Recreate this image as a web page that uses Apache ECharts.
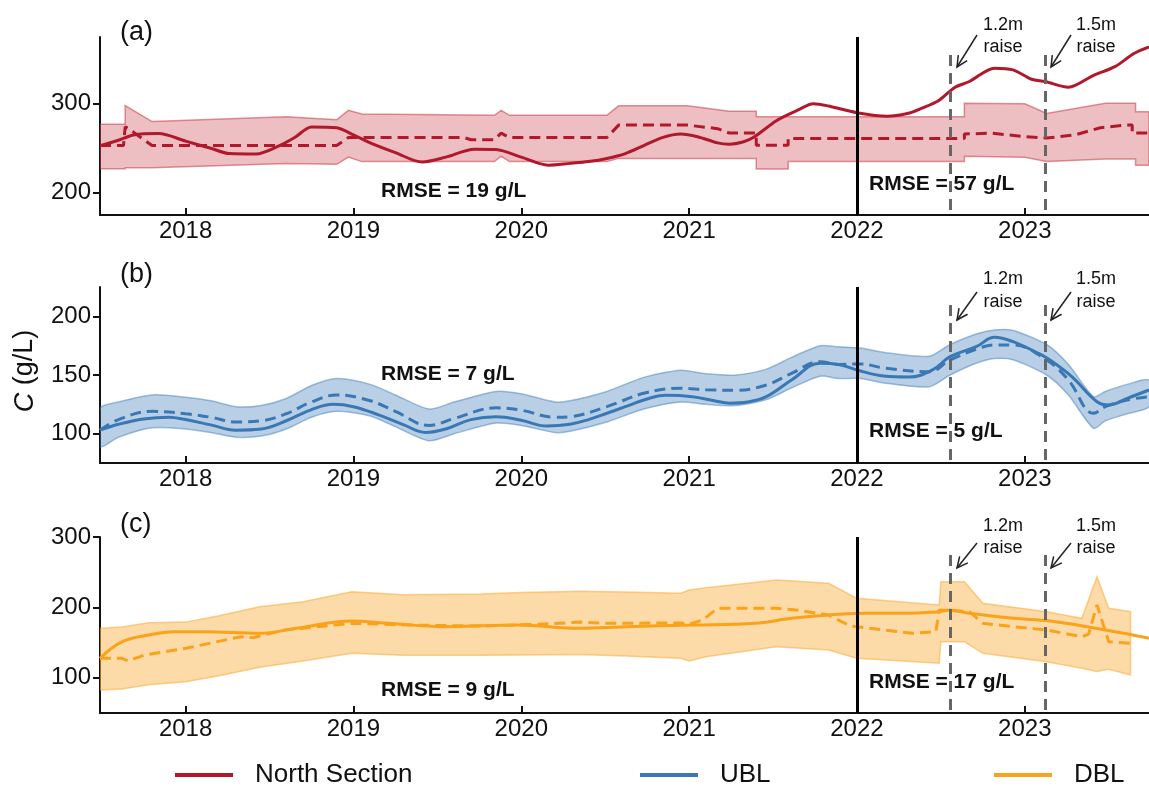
<!DOCTYPE html>
<html>
<head>
<meta charset="utf-8">
<title>Salinity C (g/L)</title>
<script src="https://cdn.jsdelivr.net/npm/echarts@6/dist/echarts.min.js"></script>
<style>
  html, body { margin: 0; padding: 0; background: #fff; }
  #main { width: 1149px; height: 789px; }
</style>
</head>
<body>
<div id="main"></div>
<script type="text/javascript">
// x axis (decimal years)
var yearTicks = [2018, 2019, 2020, 2021, 2022, 2023];
var xMin = 2017.49, xMax = 2023.74;
var splitYear = 2022;
var raiseDates = [2022.556, 2023.12];
var raiseText = [['1.2m', 'raise'], ['1.5m', 'raise']];
var panelNames = ['(a)', '(b)', '(c)'];
var rmseLeft = ['RMSE = 19 g/L', 'RMSE = 7 g/L', 'RMSE = 9 g/L'];
var rmseRight = ['RMSE = 57 g/L', 'RMSE = 5 g/L', 'RMSE = 17 g/L'];
var yTicksA = [200, 300];
var yTicksB = [100, 150, 200];
var yTicksC = [100, 200, 300];

// (a) North Section
var nsObsX = [2017.49,2017.6,2017.69,2017.84,2018.0,2018.15,2018.26,2018.42,2018.55,2018.65,2018.75,2018.9,2019.0,2019.1,2019.25,2019.41,2019.55,2019.72,2019.85,2020.0,2020.16,2020.29,2020.4,2020.51,2020.62,2020.73,2020.84,2020.95,2021.05,2021.17,2021.24,2021.32,2021.39,2021.52,2021.65,2021.74,2021.83,2022.0,2022.18,2022.3,2022.38,2022.49,2022.58,2022.67,2022.82,2022.93,2023.04,2023.12,2023.26,2023.41,2023.54,2023.65,2023.74];
var nsObsY = [253,259,265,266.5,258,250,244,243.5,252,262,274,273,265,256,245,234.5,240,249,248.5,240,231,233,235,238.5,244,253,262,266,263,256,254.5,257,263,281,293,300,297.5,290,286,289,294.5,304,318,325,340,338,327.5,325,318.5,332,342,356.5,364];
var nsModX = [2017.49,2017.63,2017.64,2017.66,2017.8,2018.9,2018.97,2019.66,2019.7,2019.84,2019.88,2019.93,2020.51,2020.58,2020.99,2021.17,2021.24,2021.4,2021.4,2021.59,2021.59,2022.64,2022.64,2022.8,2023.0,2023.13,2023.3,2023.45,2023.59,2023.64,2023.64,2023.74];
var nsModY = [253,253,274,272,253,253,262,262,259.5,259.5,267,262,262,276,276,272,267,267,253.5,253.5,261,261,266,267,263,261.5,265,273,276,276,267,267];
var nsBandX = [2017.49,2017.64,2017.64,2017.8,2018.6,2018.9,2018.97,2019.05,2019.84,2019.88,2019.93,2020.51,2020.58,2020.99,2021.24,2021.4,2021.4,2021.59,2021.59,2022.64,2022.64,2023.0,2023.13,2023.48,2023.66,2023.66,2023.74];
var nsLo = [227,227,228,228,233,232,240,235,235,241,235,235,238.6,238.6,238.6,238.6,226.6,226.6,235,235,241,240,235,238,238,231,231];
var nsHi = [277,277,298,280,285.5,282,292.6,288.5,287,292.6,287,287,297.7,297.7,291.7,291.7,285.5,285.5,285.5,285.5,300.5,300,289,300.5,300.5,291,291];

// (b) UBL
var ubObsX = [2017.49,2017.6,2017.75,2017.9,2018.0,2018.15,2018.3,2018.45,2018.6,2018.75,2018.88,2019.0,2019.15,2019.3,2019.43,2019.55,2019.7,2019.85,2020.0,2020.15,2020.29,2020.4,2020.51,2020.62,2020.73,2020.86,2021.02,2021.15,2021.24,2021.35,2021.46,2021.61,2021.78,2021.89,2022.0,2022.16,2022.31,2022.45,2022.555,2022.71,2022.82,2022.93,2023.08,2023.15,2023.28,2023.43,2023.5,2023.61,2023.74];
var ubObsY = [103,108,112.5,114,112,107.5,103,104,111,120.5,125,123,116,107.5,101,104,112,114.5,111.5,106.5,108,112,117.4,123,128.7,132.7,131.5,128,126,127,131.5,145.7,160,159,154.3,149.1,148.3,154.3,165.6,174.1,182.1,178.4,168.5,162.8,148.6,127.2,124.4,130.1,137.2];
var ubModX = [2017.49,2017.6,2017.8,2018.0,2018.15,2018.3,2018.45,2018.6,2018.75,2018.9,2019.1,2019.25,2019.45,2019.6,2019.85,2020.0,2020.2,2020.29,2020.51,2020.73,2020.95,2021.1,2021.28,2021.46,2021.61,2021.78,2021.89,2022.02,2022.17,2022.43,2022.555,2022.71,2022.82,2022.93,2023.13,2023.26,2023.41,2023.48,2023.61,2023.74];
var ubModY = [103,112,119,117,114,110,111,117,127,133,128,119,107,113,122,120,114,114.5,123,134.4,138.7,137.5,137,141.5,151.4,161.3,159,159.4,155.7,152.8,162.8,172,175.6,175.6,162.8,145.7,117.4,123,128.7,131.5];
var ubLo = [89,97,105,104,101,97,98,104,114,119,115,106,94,100,109,107,101,102,110,121,127,125,124,129,139,149,147,147,143,140,150,160,164,163,150,133,104.6,111,117,123];
var ubHi = [121.6,127,133,131,128,123,124,130,141,147,142,133,121,127,136,134,127,128,136,148,154,151,150,155,165,175,174,173,169,166,176,185,188.4,188,176,159,131.5,136,142,145.7];

// (c) DBL
var dbObsX = [2017.49,2017.62,2017.78,2017.93,2018.11,2018.44,2018.66,2018.99,2019.21,2019.54,2019.98,2020.35,2020.62,2021.02,2021.39,2021.61,2021.83,2022.05,2022.27,2022.49,2022.555,2022.67,2022.93,2023.15,2023.37,2023.59,2023.74];
var dbObsY = [127.7,151,160.8,165.5,165.5,163.2,170.3,180.7,177.4,172.6,175,170.3,172.6,175,177.4,184.5,189.2,191.6,191.6,193.9,196.3,191.6,184.5,180.7,172.6,163.2,156.1];
var dbModX = [2017.49,2017.62,2017.66,2017.75,2018.0,2018.33,2018.4,2018.59,2018.99,2019.32,2019.76,2020.1,2020.35,2020.51,2020.95,2021.0,2021.08,2021.17,2021.52,2021.65,2021.83,2021.96,2022.16,2022.33,2022.47,2022.49,2022.67,2022.75,2022.93,2023.13,2023.34,2023.38,2023.43,2023.5,2023.63];
var dbModY = [127.7,127.7,124,132,141.9,158.4,157,167.9,177.4,175,173.4,176,179.1,177.4,178,176,182,198.7,198.7,196,189.2,173.6,167.9,163.2,165.5,196.3,193.9,177.4,172.6,167.9,158.4,162,203.4,151.3,149];
var dbBandX = [2017.49,2017.62,2017.78,2018.0,2018.2,2018.44,2018.7,2018.99,2019.3,2019.76,2020.0,2020.35,2020.62,2020.95,2021.0,2021.1,2021.52,2021.83,2022.0,2022.49,2022.5,2022.64,2022.75,2023.13,2023.34,2023.43,2023.5,2023.63];
var dbLo = [82.7,84,90,94.5,103,115,124,134.8,132,132,132.4,133,131,127.7,124,130,144.2,139.5,127.7,120.6,151.3,151.3,134.8,122.9,113.5,108.8,112,104];
var dbHi = [170.3,172,178.3,179.1,188,201,208,222.3,218,219,221,223,222,220,224.7,228,238.9,234.2,212.9,203.4,236.5,236.5,205.8,193.9,184.5,243.6,198.7,194];

var FONT = '"Liberation Sans", Arial, sans-serif';
var RED = '#b2182b', BLUE = '#3a78b5', ORANGE = '#f9a21a';

var grids = [
    {left: 100, right: 0, top: 37, height: 178},
    {left: 100, right: 0, top: 287, height: 176},
    {left: 100, right: 0, top: 537, height: 176}
];
var yRanges = [[175, 375], [75, 225], [50, 300]];
var yTicks = [yTicksA, yTicksB, yTicksC];

var myChart = echarts.init(document.getElementById('main'));

function pairs(xs, ys) {
    return xs.map(function (x, i) { return [x, ys[i]]; });
}

function lineSeries(name, xs, ys, gi, color, dashed, smooth) {
    return {
        name: name,
        type: 'line',
        xAxisIndex: gi,
        yAxisIndex: gi,
        data: pairs(xs, ys),
        symbol: 'none',
        showSymbol: false,
        smooth: smooth || false,
        color: color,
        itemStyle: {color: color},
        lineStyle: {color: color, width: 3, type: dashed ? [11, 6] : 'solid'},
        z: dashed ? 3 : 4,
        silent: true
    };
}

// uncertainty band drawn as one polygon (upper edge, then lower edge back)
function bandSeries(xs, lo, hi, gi, fill, stroke, smooth) {
    var rows = xs.map(function (x, i) { return [x, lo[i], hi[i]]; });
    function edge(api, k, reverse) {
        var pts = rows.map(function (r) { return api.coord([r[0], r[k]]); });
        return reverse ? pts.reverse() : pts;
    }
    return {
        type: 'custom',
        xAxisIndex: gi,
        yAxisIndex: gi,
        data: rows,
        encode: {x: 0, y: [1, 2]},
        silent: true,
        clip: true,
        z: 1,
        renderItem: function (params, api) {
            if (params.dataIndex !== 0) return null;
            var top = edge(api, 2, false), bot = edge(api, 1, true);
            return {
                type: 'group',
                children: [
                    {type: 'polygon', shape: {points: top.concat(bot), smooth: smooth || 0},
                        style: {fill: fill, stroke: stroke, lineWidth: 1.5}}
                ]
            };
        }
    };
}

// vertical markers: 2022 split (black) and raise dates (grey dashed)
function markers(gi) {
    var lo = yRanges[gi][0], hi = yRanges[gi][1];
    var dashTop = hi - 18 * (hi - lo) / grids[gi].height;
    var data = [[
        {coord: [splitYear, hi], lineStyle: {color: '#000', width: 3, type: 'solid'}},
        {coord: [splitYear, lo]}
    ]];
    raiseDates.forEach(function (d) {
        data.push([
            {coord: [d, dashTop], lineStyle: {color: '#666', width: 3, type: [11, 7]}},
            {coord: [d, lo]}
        ]);
    });
    return {silent: true, symbol: ['none', 'none'], label: {show: false}, data: data};
}

var xAxes = grids.map(function (g, i) {
    return {
        type: 'value', gridIndex: i, min: xMin, max: xMax,
        axisLine: {lineStyle: {color: '#111', width: 2}},
        axisTick: {inside: true, length: 7, lineStyle: {color: '#111', width: 2}, customValues: yearTicks},
        axisLabel: {customValues: yearTicks, margin: 4, fontSize: 24, fontFamily: FONT, color: '#111',
            formatter: function (v) { return String(Math.round(v)); }},
        splitLine: {show: false}
    };
});
var yAxes = grids.map(function (g, i) {
    return {
        type: 'value', gridIndex: i, min: yRanges[i][0], max: yRanges[i][1],
        axisLine: {show: true, lineStyle: {color: '#111', width: 2}},
        axisTick: {show: true, length: 7, lineStyle: {color: '#111', width: 2}, customValues: yTicks[i]},
        axisLabel: {customValues: yTicks[i], margin: 9, fontSize: 24, fontFamily: FONT, color: '#111'},
        splitLine: {show: false}
    };
});

var nsLine = lineSeries('North Section', nsObsX, nsObsY, 0, RED, false, 0.3);
nsLine.markLine = markers(0);
var ubLine = lineSeries('UBL', ubObsX, ubObsY, 1, BLUE, false, 0.4);
ubLine.markLine = markers(1);
var dbLine = lineSeries('DBL', dbObsX, dbObsY, 2, ORANGE, false, 0.4);
dbLine.markLine = markers(2);

var series = [
    bandSeries(nsBandX, nsLo, nsHi, 0, 'rgba(203,60,70,0.33)', 'rgba(200,60,70,0.55)'),
    lineSeries('North Section model', nsModX, nsModY, 0, RED, true, false),
    nsLine,
    bandSeries(ubModX, ubLo, ubHi, 1, 'rgba(70,130,190,0.38)', 'rgba(70,130,190,0.5)', 0.25),
    lineSeries('UBL model', ubModX, ubModY, 1, BLUE, true, 0.4),
    ubLine,
    bandSeries(dbBandX, dbLo, dbHi, 2, 'rgba(250,165,40,0.4)', 'rgba(250,165,40,0.5)'),
    lineSeries('DBL model', dbModX, dbModY, 2, ORANGE, true, false),
    dbLine
];

// annotations
var annY = [[25, 47], [279, 302], [526, 548]];
var arrowY = [[35, 67], [292, 320], [543, 568]];
var textCx = [1003, 1096];
var arrowX = [[977, 957], [1071, 1051]];
var rmseLeftY = [191, 374, 690];
var rmseRightY = [184, 431, 682];
var panelY = [33, 275, 525];

function txt(x, y, s, size, opt) {
    var st = {text: s, x: 0, y: 0, fill: '#111', font: (opt && opt.bold ? 'bold ' : '') + size + 'px ' + FONT,
        align: (opt && opt.align) || 'left', verticalAlign: 'middle'};
    return {type: 'text', x: x, y: y, silent: true, style: st};
}
function arrow(x1, y1, x2, y2) {
    var a = Math.atan2(y2 - y1, x2 - x1), L = 12, s = 0.45;
    return [
        {type: 'line', silent: true, shape: {x1: x1, y1: y1, x2: x2, y2: y2}, style: {stroke: '#222', lineWidth: 1.5}},
        {type: 'polyline', silent: true, shape: {points: [
            [x2 - L * Math.cos(a - s), y2 - L * Math.sin(a - s)], [x2, y2],
            [x2 - L * Math.cos(a + s), y2 - L * Math.sin(a + s)]]},
            style: {stroke: '#222', lineWidth: 1.5, fill: null}}
    ];
}

var graphic = [];
for (var p = 0; p < 3; p++) {
    graphic.push(txt(120, panelY[p], panelNames[p], 27));
    graphic.push(txt(381, rmseLeftY[p], rmseLeft[p], 21, {bold: true}));
    graphic.push(txt(869, rmseRightY[p], rmseRight[p], 21, {bold: true}));
    for (var r = 0; r < 2; r++) {
        graphic.push(txt(textCx[r], annY[p][0], raiseText[r][0], 18, {align: 'center'}));
        graphic.push(txt(textCx[r], annY[p][1], raiseText[r][1], 18, {align: 'center'}));
        graphic = graphic.concat(arrow(arrowX[r][0], arrowY[p][0], arrowX[r][1], arrowY[p][1]));
    }
}
graphic.push({
    type: 'text', x: 25, y: 371, rotation: Math.PI / 2, silent: true,
    style: {
        text: '{i|C} (g/L)', x: 0, y: 0, align: 'center', verticalAlign: 'middle',
        font: '27px ' + FONT, fill: '#111',
        rich: {i: {fontStyle: 'italic', fontSize: 27, fontFamily: FONT, fill: '#111'}}
    }
});

function legendAt(name, left) {
    return {
        data: [name], left: left, top: 760, icon: 'rect', itemWidth: 58, itemHeight: 4,
        selectedMode: false, padding: 0,
        textStyle: {fontFamily: FONT, fontSize: 26, color: '#111', lineHeight: 30, padding: [0, 0, 0, 17]}
    };
}

var option = {
    animation: false,
    backgroundColor: '#fff',
    grid: grids,
    xAxis: xAxes,
    yAxis: yAxes,
    legend: [legendAt('North Section', 175), legendAt('UBL', 640), legendAt('DBL', 994)],
    graphic: graphic,
    series: series
};
myChart.setOption(option);
</script>
</body>
</html>
